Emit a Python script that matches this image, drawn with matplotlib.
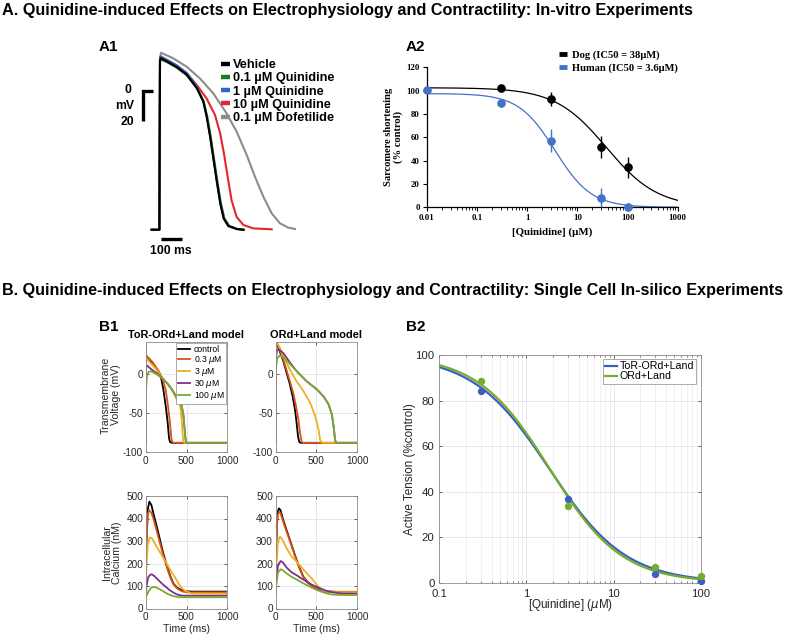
import matplotlib
matplotlib.use('Agg')
import matplotlib.pyplot as plt
import numpy as np
from matplotlib.lines import Line2D
from matplotlib.font_manager import FontProperties
from matplotlib.ticker import LogLocator, NullFormatter

plt.rcParams['font.family'] = ['Liberation Sans', 'DejaVu Sans']
plt.rcParams['mathtext.fontset'] = 'dejavusans'
plt.rcParams['axes.unicode_minus'] = False

# ---------------- data ----------------
title_a = "A. Quinidine-induced Effects on Electrophysiology and Contractility: In-vitro Experiments"
title_b = "B. Quinidine-induced Effects on Electrophysiology and Contractility: Single Cell In-silico Experiments"

# A1: in-vitro action potentials (ms, mV)
a1_labels = ["Vehicle", "0.1 µM Quinidine", "1 µM Quinidine", "10 µM Quinidine", "0.1 µM Dofetilide"]
vehicle_t = [-40, -3, 0, 3, 30, 80, 127, 175, 206, 222, 238, 254, 270, 287, 303, 325, 365, 397]
vehicle_v = [-92.5, -92.5, 20, 22, 20, 16, 11, 2, -7, -17, -30, -45, -60, -75, -85, -90, -92, -92.5]
quin01_t = [-40, -3, 0, 3, 30, 80, 127, 175, 208, 225, 241, 257, 273, 290, 307, 330, 368, 400]
quin01_v = [-92.5, -92.5, 20, 21, 19.5, 15.5, 10.5, 2, -7, -17, -30, -45, -60, -75, -85, -90, -92, -92.5]
quin1_t = [-40, -3, 0, 3, 30, 80, 127, 175, 207, 223, 239, 255, 271, 288, 304, 327, 366, 398]
quin1_v = [-92.5, -92.5, 21, 23, 21, 17, 12, 3, -7, -17, -30, -45, -60, -75, -85, -90, -92, -92.5]
quin10_t = [-40, -3, 0, 3, 30, 80, 127, 175, 222, 262, 286, 305, 322, 341, 365, 397, 444, 532]
quin10_v = [-92.5, -92.5, 21, 23, 21, 17, 12, 4, -5, -16, -28, -42, -57, -73, -84, -89.3, -91.6, -92.2]
dofet_t = [-40, -3, 0, 5, 63, 127, 190, 254, 317, 365, 413, 452, 492, 532, 571, 611, 643]
dofet_v = [-92.5, -92.5, 22, 25.5, 21.8, 16.2, 8.4, -1.6, -14.9, -27.1, -42.7, -57.1, -70.4, -81.6, -88.2, -91.1, -92]

# A2: sarcomere shortening
dog_conc = [0.3, 3, 30, 100]
dog_mean = [102, 92.6, 51.4, 34.3]
dog_err = [0, 6, 9.5, 9]
human_conc = [0.01, 0.3, 3, 30, 100]
human_mean = [100.3, 89.1, 57.1, 8.3, 0.6]
human_err = [0, 0, 10, 8, 0]
dog_fit = dict(top=102.5, ic50=38.0, hill=0.85)
human_fit = dict(top=97.5, ic50=3.6, hill=1.2)
a2_x_ticks = [0.01, 0.1, 1, 10, 100, 1000]
a2_x_ticklabels = ["0.01", "0.1", "1", "10", "100", "1000"]
a2_y_ticks = [0, 20, 40, 60, 80, 100, 120]

# B1: in-silico traces
b1_labels = ["control", "0.3 $\\mu$M", "3 $\\mu$M", "30 $\\mu$M", "100 $\\mu$M"]
# ToR-ORd+Land membrane voltage (ms, mV)
tor_v_ctrl_t = [0, 2, 8, 40, 80, 120, 160, 188, 216, 245, 269, 286, 298, 320, 1000]
tor_v_ctrl = [-88, 15, 22, 19, 14, 8, 1, -5, -20, -41, -62, -82, -87, -88, -88]
tor_v_03_t = [0, 2, 5, 12, 40, 80, 120, 160, 200, 244, 273, 297, 314, 326, 345, 1000]
tor_v_03 = [-88, 33, 24, 21, 19, 15, 9, 3, -5, -20, -41, -62, -82, -87, -88, -88]
tor_v_3_t = [0, 2, 6, 30, 80, 130, 180, 240, 300, 340, 380, 420, 433, 445, 455, 462, 480, 1000]
tor_v_3 = [-88, 20, 19, 16, 11, 5, -2, -10, -17, -24, -33, -40, -50, -65, -80, -87, -88, -88]
tor_v_30_t = [0, 3, 10, 20, 50, 100, 150, 200, 260, 320, 380, 441, 461, 475, 487, 494, 510, 1000]
tor_v_30 = [-88, 5, 10, 10, 7, 3, -1, -6, -12, -20, -30, -41, -52, -68, -82, -87, -88, -88]
tor_v_100_t = [0, 4, 15, 35, 60, 100, 150, 200, 260, 320, 380, 441, 461, 475, 487, 496, 510, 1000]
tor_v_100 = [-88, -20, -3, 2, 3, 1, -2, -6, -12, -20, -30, -41, -52, -68, -82, -87, -88, -88]
# ORd+Land membrane voltage (ms, mV)
ord_v_ctrl_t = [0, 3, 12, 53, 95, 136, 177, 210, 239, 259, 276, 292, 310, 1000]
ord_v_ctrl = [-88, 42, 40, 28, 16, 1, -14, -29, -46, -63, -80, -87, -88, -88]
ord_v_03_t = [0, 3, 12, 53, 95, 136, 177, 218, 251, 280, 300, 321, 340, 1000]
ord_v_03 = [-88, 43, 41, 30, 18, 4, -10, -25, -41, -58, -75, -87, -88, -88]
ord_v_3_t = [0, 3, 12, 53, 95, 177, 259, 341, 424, 486, 527, 547, 560, 580, 1000]
ord_v_3 = [-88, 42, 40, 33, 22, 5, -10, -22, -37, -54, -71, -84, -87, -88, -88]
ord_v_30_t = [0, 5, 15, 33, 60, 95, 177, 259, 383, 506, 588, 650, 691, 712, 728, 736, 750, 1000]
ord_v_30 = [-88, 15, 28, 31, 29, 26, 14, 3, -10, -20, -29, -39, -52, -67, -82, -87, -88, -88]
ord_v_100_t = [0, 5, 20, 53, 100, 150, 259, 383, 506, 588, 650, 691, 712, 728, 738, 750, 1000]
ord_v_100 = [-88, 5, 19, 23, 20, 15, 3, -10, -20, -29, -39, -52, -67, -82, -87, -88, -88]
# ToR-ORd+Land intracellular calcium (ms, nM)
tor_ca_ctrl_t = [0, 10, 25, 45, 70, 94, 135, 176, 215, 257, 300, 339, 380, 420, 460, 502, 600, 1000]
tor_ca_ctrl = [75, 300, 440, 475, 460, 423, 365, 304, 245, 193, 145, 111, 94, 85, 79, 76, 75, 75]
tor_ca_03_t = [0, 10, 25, 41, 70, 94, 135, 176, 215, 257, 300, 339, 380, 420, 460, 502, 600, 1000]
tor_ca_03 = [72, 290, 415, 438, 425, 400, 345, 289, 235, 185, 140, 108, 91, 81, 75, 72, 72, 72]
tor_ca_3_t = [0, 10, 30, 53, 80, 135, 200, 257, 320, 380, 420, 460, 500, 560, 1000]
tor_ca_3 = [66, 200, 300, 316, 310, 274, 235, 200, 160, 126, 100, 85, 76, 67, 66]
tor_ca_30_t = [0, 10, 30, 55, 73, 100, 140, 176, 217, 257, 300, 339, 380, 420, 460, 502, 1000]
tor_ca_30 = [57, 100, 138, 150, 152, 146, 132, 119, 105, 93, 80, 71, 63, 59, 57, 57, 57]
tor_ca_100_t = [0, 15, 40, 70, 94, 130, 176, 217, 257, 300, 339, 380, 420, 460, 1000]
tor_ca_100 = [50, 60, 80, 93, 96, 93, 85, 76, 67, 60, 55, 52, 50, 50, 50]
# ORd+Land intracellular calcium (ms, nM)
ord_ca_ctrl_t = [0, 10, 25, 41, 60, 95, 136, 177, 218, 259, 300, 341, 400, 465, 530, 588, 650, 750, 1000]
ord_ca_ctrl = [74, 300, 425, 445, 438, 393, 348, 304, 259, 215, 176, 141, 115, 96, 84, 77, 75, 74, 74]
ord_ca_03_t = [0, 10, 25, 41, 60, 95, 136, 177, 218, 259, 300, 341, 400, 465, 530, 588, 650, 750, 1000]
ord_ca_03 = [74, 290, 410, 430, 425, 385, 342, 300, 255, 212, 173, 139, 113, 95, 83, 77, 75, 74, 74]
ord_ca_3_t = [0, 10, 30, 53, 80, 136, 200, 259, 320, 383, 444, 490, 527, 580, 630, 700, 1000]
ord_ca_3 = [70, 180, 300, 319, 310, 267, 230, 208, 183, 156, 134, 112, 96, 82, 75, 72, 72]
ord_ca_30_t = [0, 10, 30, 62, 90, 136, 200, 259, 320, 383, 444, 506, 570, 630, 700, 800, 1000]
ord_ca_30 = [65, 120, 190, 211, 205, 182, 160, 148, 133, 119, 106, 96, 86, 78, 72, 67, 66]
ord_ca_100_t = [0, 10, 30, 62, 90, 136, 200, 259, 320, 383, 444, 506, 570, 630, 700, 800, 1000]
ord_ca_100 = [60, 110, 160, 174, 170, 156, 140, 129, 116, 104, 93, 82, 74, 67, 62, 60, 60]

# B2: active tension
b2_conc = [0.3, 3, 30, 100]
tor_tension = [84.3, 36.6, 3.7, 0.7]
ord_tension = [88.6, 33.7, 6.7, 3.1]
tor_fit = dict(top=100, ic50=1.83, hill=0.99)
ord_fit = dict(top=100, ic50=1.85, hill=1.05)
b2_labels = ["ToR-ORd+Land", "ORd+Land"]

# ---------------- helpers ----------------
W, H = 789, 637
fig = plt.figure(figsize=(W / 100, H / 100), dpi=100)


def rect(l, t, r, b):
    return [l / W, 1 - b / H, (r - l) / W, (b - t) / H]


def fxy(x, y):
    return (x / W, 1 - y / H)


def hill(c, top, ic50, hill):
    c = np.asarray(c, dtype=float)
    return top / (1 + (c / ic50) ** hill)


renderer = fig.canvas.get_renderer()


def fit_width(txt, target):
    bb = txt.get_window_extent(renderer)
    txt.set_fontsize(txt.get_fontsize() * target / bb.width)


# ---------------- titles ----------------
ta = fig.text(*fxy(2, 11), title_a, fontsize=11, fontweight='bold', ha='left', va='center')
fit_width(ta, 696)
tb = fig.text(*fxy(2, 291), title_b, fontsize=11, fontweight='bold', ha='left', va='center')
fit_width(tb, 783)
for lab, x, y in [("A1", 99, 47), ("A2", 406, 47), ("B1", 99, 327), ("B2", 406, 327)]:
    fig.text(*fxy(x, y), lab, fontsize=11, fontweight='bold', ha='left', va='center')

# ---------------- A1 ----------------
l, t, r, b = 112, 45, 345, 262
ax1 = fig.add_axes(rect(l, t, r, b))
ax1.set_xlim((l - 160) / 0.21, (r - 160) / 0.21)
ax1.set_ylim((91 - b) / 1.5, (91 - t) / 1.5)
ax1.axis('off')
a1_colors = ['black', '#1f7a1f', '#3366cc', '#e3262f', '#8c8c8c']
lw_a1 = 1.5
ax1.plot(dofet_t, dofet_v, color=a1_colors[4], lw=lw_a1, solid_joinstyle='round')
ax1.plot(quin10_t, quin10_v, color=a1_colors[3], lw=lw_a1, solid_joinstyle='round')
ax1.plot(quin1_t, quin1_v, color=a1_colors[2], lw=lw_a1, solid_joinstyle='round')
ax1.plot(quin01_t, quin01_v, color=a1_colors[1], lw=lw_a1, solid_joinstyle='round')
ax1.plot(vehicle_t, vehicle_v, color=a1_colors[0], lw=lw_a1, solid_joinstyle='round')
# scale bars
ax1.plot([-33, -81, -81], [0, 0, -20], color='black', lw=2.4, solid_capstyle='butt', solid_joinstyle='miter')
ax1.plot([5, 105], [-98.7, -98.7], color='black', lw=2.4, solid_capstyle='butt')
sb_font = dict(fontsize=8.8, fontweight='bold', ha='center', va='center')
ax1.text(-152, 0.5, "0", **sb_font)
ax1.text(-169, -10, "mV", **sb_font)
ax1.text(-155, -20.5, "20", **sb_font)
ax1.text(52, -107, "100 ms", **sb_font)
a1_handles = [Line2D([], [], color=c, lw=3.2, solid_capstyle='butt') for c in a1_colors]
ax1.legend(a1_handles, a1_labels, loc='upper left', bbox_to_anchor=fxy(221, 59),
           bbox_transform=fig.transFigure, frameon=False, handlelength=0.72,
           handletextpad=0.25, labelspacing=0.1, borderpad=0, borderaxespad=0,
           prop=FontProperties(family='Liberation Sans', weight='bold', size=9.2))

# ---------------- A2 ----------------
serif_b = dict(fontfamily='Liberation Serif', fontweight='bold')
ax2 = fig.add_axes(rect(426.7, 67.3, 677.7, 207.3))
ax2.set_xscale('log')
xf = np.logspace(-2, 3, 400)
ax2.plot(xf, hill(xf, **dog_fit), color='black', lw=0.9)
ax2.plot(xf, hill(xf, **human_fit), color='#4472c4', lw=0.9)
ax2.errorbar(dog_conc, dog_mean, yerr=dog_err, fmt='o', color='black', ms=5.2, elinewidth=1, capsize=0, clip_on=False, zorder=3)
ax2.errorbar(human_conc, human_mean, yerr=human_err, fmt='o', color='#4472c4', ms=5.2, elinewidth=1, capsize=0, clip_on=False, zorder=3)
ax2.set_xlim(0.01, 1000)
ax2.set_ylim(0, 120)
ax2.spines['top'].set_visible(False)
ax2.spines['right'].set_visible(False)
for s in ('left', 'bottom'):
    ax2.spines[s].set_linewidth(0.9)
ax2.set_xticks(a2_x_ticks, labels=a2_x_ticklabels, fontsize=6.3, **serif_b)
ax2.set_yticks(a2_y_ticks, labels=[str(v) for v in a2_y_ticks], fontsize=6.3, **serif_b)
ax2.xaxis.set_minor_locator(LogLocator(base=10, subs=np.arange(2, 10), numticks=20))
ax2.xaxis.set_minor_formatter(NullFormatter())
ax2.tick_params(which='major', direction='out', length=3, width=0.8, pad=2)
ax2.tick_params(which='minor', direction='out', length=1.8, width=0.6)
ax2.set_ylabel("Sarcomere shortening\n(% control)", fontsize=7.6, linespacing=1.05,
               rotation_mode='anchor', ha='center', va='center', **serif_b)
ax2.yaxis.set_label_coords(-0.132, 0.5)
ax2.set_xlabel("[Quinidine] (µM)", fontsize=7.8, ha='center', va='center', **serif_b)
ax2.xaxis.set_label_coords(0.5, -0.178)
a2_handles = [Line2D([], [], color='black', lw=3.5, solid_capstyle='butt'),
              Line2D([], [], color='#4472c4', lw=3.5, solid_capstyle='butt')]
ax2.legend(a2_handles, ["Dog (IC50 = 38µM)", "Human (IC50 = 3.6µM)"], loc='upper left',
           bbox_to_anchor=fxy(559, 50.5), bbox_transform=fig.transFigure, frameon=False,
           handlelength=0.75, handletextpad=0.45, labelspacing=0.32, borderpad=0, borderaxespad=0,
           prop=FontProperties(family='Liberation Serif', weight='bold', size=7.6))

# ---------------- B1 ----------------
b1_colors = ['black', '#d95319', '#edb120', '#7e2f8e', '#77ac30']
tick_col = '#262626'


def matlab_style(ax, xt, yt, fs=7.2, xpad=2.6, ypad=1.8):
    ax.set_xticks(xt)
    ax.set_yticks(yt)
    for s in ax.spines.values():
        s.set_color('#8c8c8c')
        s.set_linewidth(0.6)
    ax.tick_params(direction='in', length=2, width=0.5, colors=tick_col, labelsize=fs,
                   top=True, right=True)
    ax.tick_params(axis='x', pad=xpad)
    ax.tick_params(axis='y', pad=ypad)
    ax.grid(True, color='#e3e3e3', lw=0.6)
    ax.set_axisbelow(True)


def draw_traces(ax, traces):
    lines = []
    for (tt, vv), c in zip(traces, b1_colors):
        ln, = ax.plot(tt, vv, color=c, lw=1.3)
        lines.append(ln)
    return lines


axTL = fig.add_axes(rect(145.7, 342, 227.3, 452.3))
axTR = fig.add_axes(rect(275.5, 342, 357.1, 452.3))
axBL = fig.add_axes(rect(145.7, 496, 227.3, 608.5))
axBR = fig.add_axes(rect(275.5, 496, 357.1, 608.5))

lines_tl = draw_traces(axTL, [(tor_v_ctrl_t, tor_v_ctrl), (tor_v_03_t, tor_v_03), (tor_v_3_t, tor_v_3),
                              (tor_v_30_t, tor_v_30), (tor_v_100_t, tor_v_100)])
draw_traces(axTR, [(ord_v_ctrl_t, ord_v_ctrl), (ord_v_03_t, ord_v_03), (ord_v_3_t, ord_v_3),
                   (ord_v_30_t, ord_v_30), (ord_v_100_t, ord_v_100)])
draw_traces(axBL, [(tor_ca_ctrl_t, tor_ca_ctrl), (tor_ca_03_t, tor_ca_03), (tor_ca_3_t, tor_ca_3),
                   (tor_ca_30_t, tor_ca_30), (tor_ca_100_t, tor_ca_100)])
draw_traces(axBR, [(ord_ca_ctrl_t, ord_ca_ctrl), (ord_ca_03_t, ord_ca_03), (ord_ca_3_t, ord_ca_3),
                   (ord_ca_30_t, ord_ca_30), (ord_ca_100_t, ord_ca_100)])

for ax in (axTL, axTR):
    ax.set_xlim(0, 1000)
    ax.set_ylim(-100, 40)
    matlab_style(ax, [0, 500, 1000], [-100, -50, 0])
for ax in (axBL, axBR):
    ax.set_xlim(0, 1000)
    ax.set_ylim(0, 500)
    matlab_style(ax, [0, 500, 1000], [0, 100, 200, 300, 400, 500])
    ax.set_xlabel("Time (ms)", fontsize=7.6, color=tick_col, labelpad=1.5)

axTL.set_title("ToR-ORd+Land model", fontsize=7.9, fontweight='bold', pad=3)
axTR.set_title("ORd+Land model", fontsize=7.9, fontweight='bold', pad=3)
axTL.set_ylabel("Transmembrane\nVoltage (mV)", fontsize=7.6, color=tick_col, linespacing=1.05,
                rotation_mode='anchor', ha='center', va='center')
axTL.yaxis.set_label_coords(-0.43, 0.52)
axBL.set_ylabel("Intracellular\nCalcium (nM)", fontsize=7.6, color=tick_col, linespacing=1.05,
                rotation_mode='anchor', ha='center', va='center')
axBL.yaxis.set_label_coords(-0.41, 0.5)
legTL = axTL.legend(lines_tl, b1_labels, loc='upper right', fontsize=6.2, handlelength=1.45,
                    handletextpad=0.4, labelspacing=0.0, borderpad=0.2, borderaxespad=0.15,
                    fancybox=False, framealpha=1, edgecolor='#8c8c8c')
legTL.get_frame().set_linewidth(0.5)

# ---------------- B2 ----------------
axB2 = fig.add_axes(rect(439.3, 355, 700.7, 582.7))
axB2.set_xscale('log')
xb = np.logspace(-1, 2, 400)
b2_blue = '#3a5fc0'
b2_green = '#77ac30'
ln1, = axB2.plot(xb, hill(xb, **tor_fit), color=b2_blue, lw=1.6)
ln2, = axB2.plot(xb, hill(xb, **ord_fit), color=b2_green, lw=1.6)
axB2.plot(b2_conc, tor_tension, 'o', color=b2_blue, ms=4.3, clip_on=False, zorder=3)
axB2.plot(b2_conc, ord_tension, 'o', color=b2_green, ms=4.3, clip_on=False, zorder=3)
axB2.set_xlim(0.1, 100)
axB2.set_ylim(0, 100)
matlab_style(axB2, [0.1, 1, 10, 100], [0, 20, 40, 60, 80, 100], fs=8.2, xpad=4.5, ypad=3.5)
axB2.set_xticklabels(["0.1", "1", "10", "100"])
axB2.xaxis.set_minor_locator(LogLocator(base=10, subs=np.arange(2, 10), numticks=20))
axB2.xaxis.set_minor_formatter(NullFormatter())
axB2.tick_params(which='minor', direction='in', length=1.2, width=0.4, colors=tick_col, top=True)
axB2.grid(True, which='minor', axis='x', color='#ececec', lw=0.5)
axB2.set_ylabel("Active Tension (%control)", fontsize=8.4, color=tick_col,
                rotation_mode='anchor', ha='center', va='center')
axB2.yaxis.set_label_coords(-0.112, 0.5)
axB2.set_xlabel("[Quinidine] ($\\mu$M)", fontsize=8.4, color=tick_col, ha='center', va='center')
axB2.xaxis.set_label_coords(0.5, -0.1)
legB2 = axB2.legend([ln1, ln2], b2_labels, loc='upper right', fontsize=7.7, handlelength=1.1,
                    handletextpad=0.25, labelspacing=0.0, borderpad=0.2, borderaxespad=0.4,
                    fancybox=False, framealpha=1, edgecolor='#8c8c8c')
legB2.get_frame().set_linewidth(0.5)

fig.savefig("out.png", dpi=100)
